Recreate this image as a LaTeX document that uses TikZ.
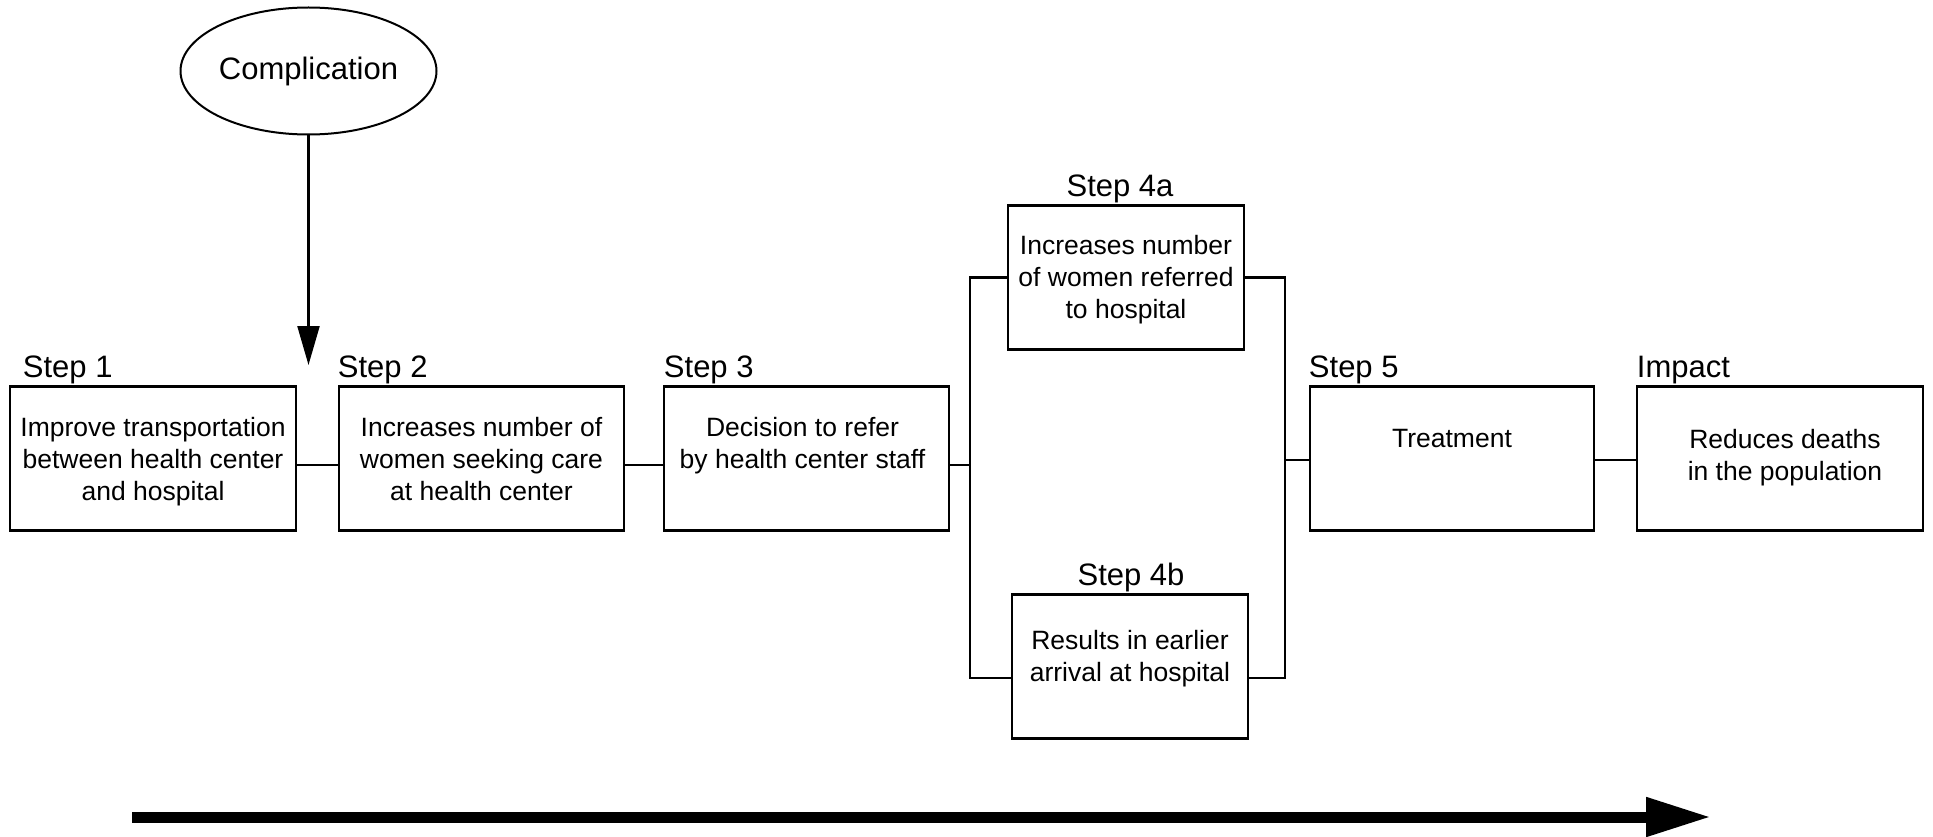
\documentclass[tikz,border=0pt]{standalone}
\usepackage{fontspec}
\setmainfont{Liberation Sans}
\usetikzlibrary{shapes.geometric,arrows.meta}
\begin{document}
\begin{tikzpicture}[x=1pt,y=1pt,
  stepbox/.style={draw,line width=2.5pt,inner sep=0pt,minimum height=144pt},
  boxtext/.style={inner sep=0pt,anchor=north,align=center,font=\fontsize{26.5}{32}\selectfont},
  steplabel/.style={inner sep=0pt,font=\fontsize{31}{37}\selectfont},
  conn/.style={line width=2.8pt},
  downarrow/.style={line width=2.2pt,-{Triangle[length=39pt,width=22pt]}},
  timearrow/.style={line width=11pt,-{Triangle[length=65pt,width=37pt]}}]
\useasboundingbox[fill=white] (0,0) rectangle (1933,-837);

% ellipse
\node[draw,ellipse,line width=2pt,minimum width=256pt,minimum height=127pt,inner sep=0pt,
  font=\fontsize{31}{37}\selectfont] (comp) at (308.5,-71) {\raisebox{2pt}{Complication}};

% boxes
\node[stepbox,minimum width=286pt] (s1) at (153,-458.5) {};
\node[stepbox,minimum width=285pt] (s2) at (481.5,-458.5) {};
\node[stepbox,minimum width=285pt] (s3) at (806.5,-458.5) {};
\node[stepbox,minimum width=236pt] (s4a) at (1126,-277.5) {};
\node[stepbox,minimum width=236pt] (s4b) at (1130,-666.5) {};
\node[stepbox,minimum width=284pt] (s5) at (1452,-458.5) {};
\node[stepbox,minimum width=286pt] (imp) at (1780,-458.5) {};

% box texts
\node[boxtext] (t1) at ([yshift=-32]s1.north) {Improve transportation\\between health center\\and hospital};
\node[boxtext] (t2) at ([yshift=-32]s2.north) {Increases number of\\women seeking care\\at health center};
\node[boxtext] (t3) at ([xshift=-4,yshift=-32]s3.north) {Decision to refer\\by health center staff};
\node[boxtext] (t4a) at ([yshift=-31]s4a.north) {Increases number\\of women referred\\to hospital};
\node[boxtext] (t4b) at ([yshift=-36.5]s4b.north) {Results in earlier\\arrival at hospital};
\node[boxtext] (t5) at ([yshift=-44]s5.north) {Treatment};
\node[boxtext] (timp) at ([xshift=5,yshift=-44]imp.north) {Reduces deaths\\in the population};

% labels
\node[steplabel,anchor=base west] (l1) at ([xshift=14,yshift=8]s1.north west) {Step 1};
\node[steplabel,anchor=base west] (l2) at ([xshift=0,yshift=8]s2.north west) {Step 2};
\node[steplabel,anchor=base west] (l3) at ([xshift=1,yshift=8]s3.north west) {Step 3};
\node[steplabel,anchor=base] (l4a) at ([xshift=-6,yshift=8]s4a.north) {Step 4a};
\node[steplabel,anchor=base] (l4b) at ([xshift=1,yshift=8]s4b.north) {Step 4b};
\node[steplabel,anchor=base west] (l5) at ([yshift=8]s5.north west) {Step 5};
\node[steplabel,anchor=base west] (limp) at ([xshift=1,yshift=8]imp.north west) {Impact};

% connectors
\coordinate (jl) at (970,-465);
\coordinate (jr) at (1285,-460);
\coordinate (atip) at (308.5,-365);
\draw[conn] ([yshift=-6.5]s1.east) -- ([yshift=-6.5]s2.west);
\draw[conn] ([yshift=-6.5]s2.east) -- ([yshift=-6.5]s3.west);
\draw[conn] ([yshift=-6.5]s3.east) -- (jl);
\draw[conn] (s4a.west) -| (jl);
\draw[conn] ([yshift=-11.5]s4b.west) -| (jl);
\draw[conn] (s4a.east) -| (jr);
\draw[conn] ([yshift=-11.5]s4b.east) -| (jr);
\draw[conn] (jr) -- ([yshift=-1.5]s5.west);
\draw[conn] ([yshift=-1.5]s5.east) -- ([yshift=-1.5]imp.west);

% complication arrow
\draw[downarrow] (comp.south) -- (atip);

% time arrow
\coordinate (ta) at (132,-817);
\coordinate (tb) at (1711,-817);
\draw[timearrow] (ta) -- (tb);
\end{tikzpicture}
\end{document}
